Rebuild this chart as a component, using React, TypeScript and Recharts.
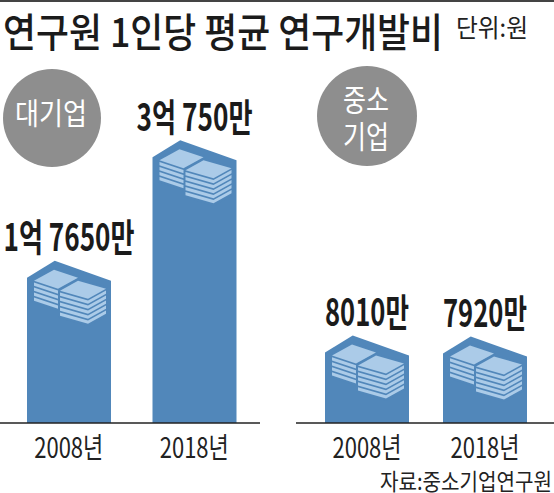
import React from 'react';
import { BarChart, Bar, XAxis, YAxis, LabelList } from 'recharts';

// ---- data (values in 만원) ----
const years = ['2008년', '2018년'];
const largeFirmValues = [17650, 30750];
const smeValues = [8010, 7920];
const titleText = '연구원 1인당 평균 연구개발비';
const unitText = '단위:원';
const sourceText = '자료:중소기업연구원';
const largeFirmLabel = ['대기업'];
const smeLabel = ['중소', '기업'];

const largeData = years.map((year, i) => ({ year, value: largeFirmValues[i] }));
const smeData = years.map((year, i) => ({ year, value: smeValues[i] }));

// ---- styles ----
const FONT = "'Noto Sans CJK KR', 'Noto Sans', sans-serif";
const BAR = '#5187ba';
const LIGHT = '#abcbe8';
const CIRCLE = '#8e8e8e';
const INK = '#1b1b1b';

const fmtValue = (v: number) =>
  v >= 10000 ? `${Math.floor(v / 10000)}억 ${v % 10000}만` : `${v}만`;

const textLen = (s: string, digit: number, hangul: number, space: number) => {
  let w = 0;
  for (const ch of s) {
    if (/[0-9]/.test(ch)) w += digit;
    else if (ch === ' ') w += space;
    else w += hangul;
  }
  return w;
};

type P = [number, number];

const Stack = ({ L, T, R, layers }: { L: P; T: P; R: P; layers: number }) => {
  const B: P = [L[0] + (R[0] - T[0]), L[1] + (R[1] - T[1])];
  const pitch = 5;
  const th = 3.4;
  const depth = layers * pitch + 0.5;
  const sil = [L, T, R, [R[0], R[1] + depth], [B[0], B[1] + depth], [L[0], L[1] + depth]]
    .map((p) => p.join(','))
    .join(' ');
  const bands = [];
  for (let k = 0; k < layers; k++) {
    const a = 1.7 + k * pitch;
    const pts = [
      [L[0], L[1] + a],
      [B[0], B[1] + a],
      [R[0], R[1] + a],
      [R[0], R[1] + a + th],
      [B[0], B[1] + a + th],
      [L[0], L[1] + a + th],
    ]
      .map((p) => p.join(','))
      .join(' ');
    bands.push(<polygon key={k} points={pts} fill={LIGHT} />);
  }
  return (
    <g>
      <polygon points={sil} fill={BAR} stroke={BAR} strokeWidth={4} strokeLinejoin="round" />
      {bands}
      <polygon points={[L, T, R, B].map((p) => p.join(',')).join(' ')} fill={LIGHT} />
    </g>
  );
};

const BoxBar = (props: any) => {
  const { x, y, width, height } = props;
  if (height == null || width == null) return null;
  const bottom = y + height;
  const s = width / 84;
  const px = x + width * 0.33;
  const d = `M${x},${y + 17} L${px},${y} L${x + width},${y + 20} L${x + width},${bottom} L${x},${bottom} Z`;
  const at = (dx: number, dy: number): P => [x + dx * s, y + dy];
  return (
    <g>
      <path d={d} fill={BAR} />
      <Stack L={at(7, 20)} T={at(27, 9)} R={at(51, 17)} layers={4} />
      <Stack L={at(33, 30)} T={at(51, 20)} R={at(79, 28)} layers={5} />
    </g>
  );
};

const ValueLabel = (props: any) => {
  const { x, y, width, value } = props;
  const text = fmtValue(Number(value));
  return (
    <text
      x={x + width / 2}
      y={y - 26}
      textAnchor="middle"
      dominantBaseline="central"
      fontFamily={FONT}
      fontSize={38}
      fontWeight={700}
      fill={INK}
      textLength={textLen(text, 15, 24, 8)}
      lengthAdjust="spacingAndGlyphs"
    >
      {text}
    </text>
  );
};

const YearTick = (props: any) => {
  const { x, y, payload } = props;
  return (
    <text
      x={x}
      y={y + 23}
      textAnchor="middle"
      dominantBaseline="central"
      fontFamily={FONT}
      fontSize={28}
      fill="#222"
      textLength={69}
      lengthAdjust="spacingAndGlyphs"
    >
      {payload.value}
    </text>
  );
};

const Panel = ({
  data,
  max,
  width,
  padL,
  padR,
}: {
  data: { year: string; value: number }[];
  max: number;
  width: number;
  padL: number;
  padR: number;
}) => (
  <BarChart width={width} height={493} data={data} margin={{ top: 0, right: 0, bottom: 0, left: 0 }}>
    <XAxis
      dataKey="year"
      height={70}
      tickLine={false}
      tickSize={0}
      tickMargin={0}
      axisLine={{ stroke: '#222', strokeWidth: 1.5 }}
      padding={{ left: padL, right: padR }}
      tick={<YearTick />}
      interval={0}
    />
    <YAxis hide domain={[0, max]} />
    <Bar dataKey="value" barSize={84} shape={<BoxBar />} isAnimationActive={false}>
      <LabelList dataKey="value" content={<ValueLabel />} />
    </Bar>
  </BarChart>
);

export default function App() {
  return (
    <div style={{ position: 'absolute', left: 0, top: 0, width: 554, height: 493, background: '#fff', overflow: 'hidden' }}>
      <svg width={554} height={493} style={{ position: 'absolute', left: 0, top: 0 }}>
        <rect x={0} y={0} width={554} height={2} fill="#444" />
        <text
          x={3}
          y={30}
          dominantBaseline="central"
          fontFamily={FONT}
          fontSize={40}
          fontWeight={500}
          fill={INK}
          textLength={440}
          lengthAdjust="spacingAndGlyphs"
        >
          {titleText}
        </text>
        <text
          x={456}
          y={26}
          dominantBaseline="central"
          fontFamily={FONT}
          fontSize={25}
          fill="#222"
          textLength={72}
          lengthAdjust="spacingAndGlyphs"
        >
          {unitText}
        </text>
        <circle cx={52} cy={118} r={49} fill={CIRCLE} />
        <text
          x={51}
          y={111}
          textAnchor="middle"
          dominantBaseline="central"
          fontFamily={FONT}
          fontSize={30}
          fill="#fff"
          textLength={72}
          lengthAdjust="spacingAndGlyphs"
        >
          {largeFirmLabel[0]}
        </text>
        <circle cx={367} cy={116} r={50} fill={CIRCLE} />
        {smeLabel.map((t, i) => (
          <text
            key={t}
            x={366}
            y={97 + i * 37}
            textAnchor="middle"
            dominantBaseline="central"
            fontFamily={FONT}
            fontSize={31}
            fill="#fff"
            textLength={46}
            lengthAdjust="spacingAndGlyphs"
          >
            {t}
          </text>
        ))}
        <text
          x={380}
          y={480}
          dominantBaseline="central"
          fontFamily={FONT}
          fontSize={23}
          fill="#222"
          textLength={172}
          lengthAdjust="spacingAndGlyphs"
        >
          {sourceText}
        </text>
      </svg>
      <div style={{ position: 'absolute', left: 0, top: 0 }}>
        <Panel data={largeData} max={46000} width={260} padL={6} padR={3} />
      </div>
      <div style={{ position: 'absolute', left: 296, top: 0 }}>
        <Panel data={smeData} max={38700} width={258} padL={12} padR={10} />
      </div>
    </div>
  );
}
